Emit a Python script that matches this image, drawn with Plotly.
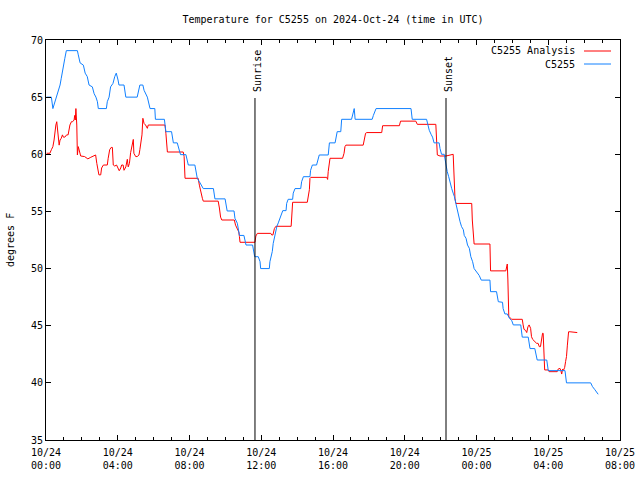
import pandas as pd
import plotly.graph_objects as go

# minutes after 2024-10-24 00:00 UTC
obs_minutes = [2, 18, 23, 32, 40, 47, 51, 58, 63, 68, 105, 108, 114, 125, 131, 138, 144, 155, 161, 167,
               172, 175, 202, 205, 211, 216, 224, 230, 235, 241, 244, 261, 264, 267, 305, 311, 314, 324,
               328, 339, 348, 364, 366, 396, 399, 401, 420, 424, 426, 439, 442, 448, 450, 468, 471, 476,
               498, 502, 506, 513, 521, 526, 560, 565, 599, 602, 606, 629, 632, 640, 643, 647, 662, 666,
               669, 691, 695, 698, 710, 716, 718, 747, 749, 753, 757, 760, 764, 768, 772, 777, 783, 788,
               792, 803, 805, 810, 825, 827, 833, 852, 855, 861, 883, 885, 891, 905, 909, 914, 944, 948,
               967, 970, 974, 986, 989, 1022, 1028, 1031, 1034, 1091, 1095, 1104, 1221, 1225, 1273, 1277,
               1282, 1288, 1293, 1298, 1315, 1318, 1323, 1332, 1335, 1338, 1342, 1347, 1351, 1357, 1362,
               1366, 1371, 1376, 1380, 1385, 1390, 1396, 1399, 1405, 1410, 1416, 1421, 1427, 1432, 1440,
               1449, 1456, 1485, 1487, 1507, 1513, 1527, 1529, 1535, 1543, 1550, 1558, 1563, 1588, 1591,
               1593, 1613, 1616, 1619, 1635, 1639, 1643, 1675, 1678, 1680, 1736, 1739, 1741, 1822, 1828,
               1836, 1847]
obs_temp = [65.0, 65.0, 64.0, 64.75, 65.6, 66.06, 66.65, 67.5, 68.4, 69.07, 69.07, 68.7, 68.0, 67.8, 67.1,
            66.8, 66.06, 65.9, 65.3, 65.0, 64.6, 64.0, 64.0, 64.6, 65.0, 65.9, 66.2, 66.8, 67.1, 66.5,
            66.06, 66.06, 65.3, 65.0, 65.0, 65.6, 66.06, 66.06, 65.6, 65.0, 64.0, 64.0, 63.06, 63.06,
            62.4, 61.98, 61.98, 61.5, 61.0, 61.0, 60.67, 60.2, 59.97, 59.97, 59.5, 59.06, 59.06, 58.5,
            57.9, 57.6, 57.3, 57.0, 57.0, 56.1, 56.1, 55.56, 55.04, 55.04, 54.4, 53.96, 53.5, 52.9, 52.9,
            52.35, 52.06, 52.06, 51.5, 51.04, 51.04, 50.6, 50.0, 50.0, 50.6, 51.04, 51.5, 52.2, 52.8, 53.2,
            53.67, 54.0, 54.4, 54.7, 55.07, 55.07, 55.7, 56.06, 56.06, 56.6, 57.0, 57.0, 57.6, 58.04,
            58.04, 58.6, 59.06, 59.06, 59.5, 59.94, 59.94, 61.0, 61.0, 61.5, 61.98, 61.98, 63.06, 63.06,
            63.6, 64.0, 63.06, 63.06, 63.4, 64.0, 64.0, 63.06, 63.06, 62.56, 62.1, 61.75, 61.5, 61.0,
            61.0, 60.5, 60.0, 60.0, 59.5, 58.9, 58.5, 58.04, 57.55, 57.0, 56.6, 56.3, 55.7, 55.1, 54.5,
            54.1, 53.67, 53.4, 52.9, 52.65, 52.06, 51.77, 51.04, 50.6, 50.0, 49.7, 49.4, 48.99, 48.99,
            47.98, 47.98, 47.1, 47.05, 46.5, 46.03, 46.03, 45.65, 45.44, 45.07, 45.07, 44.6, 44.0, 44.0,
            43.5, 43.0, 43.0, 42.5, 42.0, 42.0, 41.56, 41.07, 41.07, 40.55, 40.0, 40.0, 39.67, 39.4, 39.0]

ana_minutes = [2, 13, 18, 23, 27, 30, 33, 36, 38, 41, 44, 47, 51, 55, 58, 63, 69, 74, 77, 80, 85, 89, 94,
               96, 98, 100, 103, 105, 108, 111, 116, 129, 135, 140, 150, 158, 166, 170, 174, 177, 183,
               186, 192, 205, 208, 213, 218, 222, 225, 230, 236, 241, 245, 250, 253, 258, 261, 267, 272,
               275, 279, 283, 289, 292, 294, 300, 305, 311, 314, 318, 321, 324, 328, 333, 339, 342, 398,
               401, 406, 459, 462, 465, 509, 513, 518, 523, 526, 576, 580, 584, 588, 630, 634, 640, 645,
               647, 649, 699, 702, 707, 752, 755, 759, 764, 769, 820, 823, 825, 874, 877, 881, 883, 886,
               939, 942, 944, 948, 950, 992, 997, 1000, 1003, 1061, 1065, 1069, 1073, 1123, 1126, 1182,
               1186, 1237, 1242, 1304, 1307, 1309, 1318, 1338, 1362, 1365, 1368, 1371, 1424, 1426, 1429,
               1432, 1485, 1487, 1538, 1541, 1543, 1545, 1548, 1558, 1593, 1596, 1599, 1604, 1608, 1612,
               1616, 1621, 1624, 1628, 1635, 1641, 1646, 1650, 1654, 1657, 1659, 1661, 1663, 1666, 1668,
               1680, 1683, 1710, 1713, 1719, 1722, 1725, 1728, 1731, 1735, 1738, 1741, 1744, 1746, 1748,
               1753, 1777]
ana_temp = [60.09, 60.09, 60.4, 60.67, 61.25, 62.1, 62.56, 62.85, 62.4, 61.5, 60.8, 61.25, 61.4, 61.7,
            61.5, 61.5, 61.7, 61.7, 62.1, 62.56, 62.85, 62.85, 63.0, 63.4, 63.0, 64.0, 62.56, 59.94,
            60.67, 60.4, 59.85, 59.8, 59.65, 59.6, 59.74, 59.85, 59.94, 59.2, 58.5, 58.2, 58.2, 58.8,
            59.06, 59.06, 59.65, 60.4, 60.6, 60.6, 59.06, 58.97, 59.06, 58.8, 58.56, 58.8, 59.06, 59.06,
            58.6, 58.9, 59.56, 58.9, 59.2, 60.14, 60.96, 61.3, 60.09, 59.8, 59.8, 59.94, 60.4, 61.25,
            61.7, 63.15, 62.7, 62.56, 62.27, 62.56, 62.56, 61.84, 60.2, 60.2, 59.8, 57.9, 57.9, 57.3,
            56.6, 56.15, 55.9, 55.9, 55.3, 54.5, 54.25, 54.25, 53.8, 53.5, 53.2, 52.8, 52.3, 52.3, 52.85,
            53.08, 53.08, 52.94, 52.94, 53.5, 53.7, 53.7, 55.7, 55.8, 55.8, 56.3, 56.9, 57.9, 57.98,
            57.98, 57.8, 58.5, 59.06, 59.65, 59.65, 60.09, 60.67, 60.8, 60.8, 61.25, 61.84, 61.9, 61.9,
            62.5, 62.5, 62.9, 62.9, 62.62, 62.62, 60.96, 59.94, 59.85, 59.85, 60.0, 57.9, 56.15, 55.7,
            55.7, 54.25, 52.65, 52.15, 52.15, 49.8, 49.8, 50.17, 50.4, 49.0, 45.8, 45.56, 45.56, 45.07,
            44.68, 44.6, 44.4, 44.9, 45.07, 44.77, 44.04, 43.8, 43.6, 43.46, 43.46, 43.17, 43.17, 43.75,
            44.2, 44.34, 44.34, 42.73, 41.13, 41.13, 40.98, 40.98, 41.2, 41.27, 41.1, 40.77, 41.2, 41.1,
            41.36, 41.86, 42.3, 43.3, 43.9, 44.47, 44.47, 44.4]

sun_events = ["Sunrise", "Sunset"]
sun_minutes = [699, 1338]

base = pd.Timestamp("2024-10-24 00:00")
def to_time(mins):
    return [base + pd.Timedelta(minutes=m) for m in mins]

FONT = "DejaVu Sans Mono"
RED = "#ff0000"
BLUE = "#1080ff"

fig = go.Figure()
fig.add_trace(go.Scatter(x=to_time(ana_minutes), y=ana_temp, mode="lines",
                         line=dict(color=RED, width=1), name="C5255 Analysis"))
fig.add_trace(go.Scatter(x=to_time(obs_minutes), y=obs_temp, mode="lines",
                         line=dict(color=BLUE, width=1), name="C5255"))

for name, m in zip(sun_events, sun_minutes):
    t = base + pd.Timedelta(minutes=m)
    fig.add_shape(type="line", xref="x", yref="paper", x0=t, x1=t, y0=0, y1=0.855,
                  line=dict(color="black", width=1))
    fig.add_annotation(x=t, xref="x", y=0.865, yref="paper", text=name, textangle=-90,
                       showarrow=False, xanchor="center", yanchor="bottom", xshift=2,
                       font=dict(family=FONT, size=10, color="black"))

# legend (gnuplot style: text then sample)
for i, (label, col) in enumerate([("C5255 Analysis", RED), ("C5255", BLUE)]):
    ypos = 1 - (11 + 13 * i) / 400
    fig.add_annotation(x=(577 - 46) / 574, xref="paper", y=ypos, yref="paper", text=label,
                       showarrow=False, xanchor="right", yanchor="middle",
                       font=dict(family=FONT, size=10, color="black"))
    fig.add_shape(type="line", xref="paper", yref="paper", x0=(584 - 46) / 574, x1=(611 - 46) / 574,
                  y0=ypos, y1=ypos, line=dict(color=col, width=1))

# y-axis title as annotation so margins stay fixed
fig.add_annotation(x=-36 / 574, xref="paper", y=0.5, yref="paper", text="degrees F", textangle=-90,
                   showarrow=False, xanchor="center", yanchor="middle",
                   font=dict(family=FONT, size=10, color="black"))

fig.update_layout(
    width=640, height=480,
    margin=dict(l=46, r=20, t=40, b=40, autoexpand=False),
    paper_bgcolor="white", plot_bgcolor="white",
    showlegend=False,
    font=dict(family=FONT, size=10, color="black"),
    title=dict(text="Temperature for C5255 on 2024-Oct-24 (time in UTC)", x=0.5, xanchor="center",
               xref="paper", y=1 - 19 / 480, yanchor="middle", font=dict(family=FONT, size=10)),
)
fig.update_xaxes(
    type="date", range=[base, base + pd.Timedelta(hours=32)], automargin=False,
    tick0=base, dtick=4 * 3600 * 1000, tickformat="%m/%d<br>%H:%M",
    ticks="inside", ticklen=5, tickcolor="black", showline=True, linecolor="black", linewidth=1,
    mirror="ticks", showgrid=False, zeroline=False, ticklabelstandoff=3,
    minor=dict(dtick=3600 * 1000, ticks="inside", ticklen=3, tickcolor="black", showgrid=False),
    tickfont=dict(family=FONT, size=10),
)
fig.update_yaxes(
    range=[35, 70], dtick=5, tick0=35, automargin=False,
    ticks="inside", ticklen=5, tickcolor="black", showline=True, linecolor="black", linewidth=1,
    mirror="ticks", showgrid=False, zeroline=False,
    tickfont=dict(family=FONT, size=10),
)

fig.write_html("out.html", config={"displayModeBar": False},
               post_script="document.body.style.margin='0';")
